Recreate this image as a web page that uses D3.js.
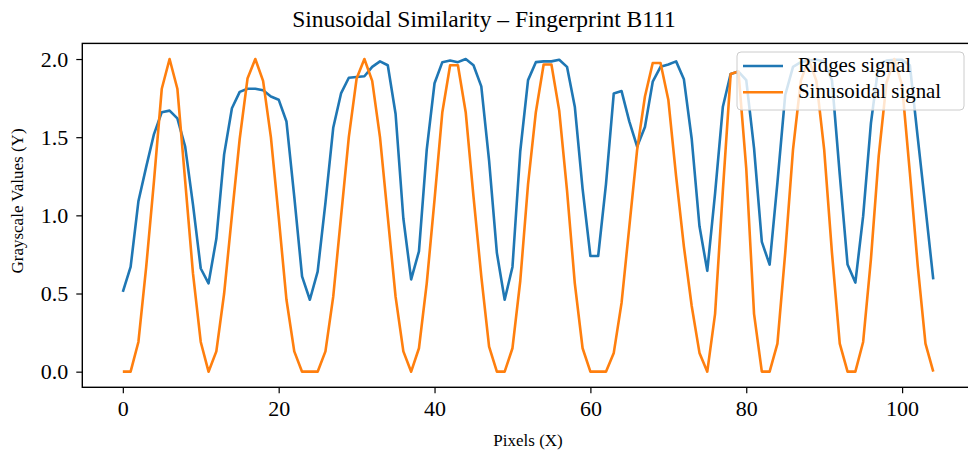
<!DOCTYPE html>
<html><head><meta charset="utf-8">
<script src="https://cdn.jsdelivr.net/npm/d3@7"></script>
<style>html,body{margin:0;padding:0;background:#fff;} svg{display:block;}</style>
</head><body>
<svg id="chart" width="968" height="457"></svg>
<script>
const titleText = "Sinusoidal Similarity \u2013 Fingerprint B111";
const xLabel = "Pixels (X)";
const yLabel = "Grayscale Values (Y)";
const seriesNames = ["Ridges signal", "Sinusoidal signal"];
const xTicks = [0, 20, 40, 60, 80, 100];
const yTicks = [0.0, 0.5, 1.0, 1.5, 2.0];
const ridges = [0.51,0.67,1.09,1.31,1.52,1.66,1.67,1.62,1.44,1.07,0.66,0.565,0.85,1.39,1.685,1.79,1.81,1.81,1.80,1.76,
1.74,1.60,1.12,0.61,0.46,0.64,1.08,1.56,1.78,1.88,1.885,1.89,1.95,1.985,1.96,1.65,0.98,0.59,0.77,1.42,
1.845,1.98,1.99,1.98,2.0,1.96,1.825,1.35,0.76,0.46,0.67,1.41,1.865,1.98,1.985,1.985,1.995,1.95,1.695,1.17,
0.74,0.74,1.2,1.78,1.795,1.60,1.44,1.565,1.855,1.95,1.965,1.985,1.87,1.49,0.93,0.645,1.14,1.695,1.905,1.92,
1.865,1.43,0.83,0.685,1.21,1.77,1.95,1.98,1.99,1.995,1.985,1.865,1.26,0.685,0.57,0.995,1.59,1.97,1.99,1.995,
1.995,1.96,1.5,1.05,0.59];
const sinusoid = [0,0,0.19,0.67,1.22,1.81,2.0,1.81,1.22,0.63,0.19,0,0.13,0.5,1.0,1.49,1.875,2.0,1.86,1.5,
0.99,0.46,0.13,0,0,0,0.13,0.48,0.99,1.5,1.875,2.0,1.86,1.5,0.99,0.48,0.13,0,0.15,0.565,
1.1,1.66,1.96,1.96,1.66,1.12,0.61,0.16,0,0,0.15,0.58,1.2,1.66,1.965,1.965,1.67,1.16,0.565,0.15,
0,0,0,0.12,0.44,0.93,1.42,1.76,1.975,1.975,1.74,1.25,0.8,0.42,0.12,0,0.37,1.16,1.905,1.92,
1.3,0.37,0,0,0.18,0.76,1.42,1.86,2.0,1.86,1.42,0.76,0.18,0,0,0.19,0.72,1.38,1.85,2.0,
1.83,1.27,0.68,0.18,0];
const colors = ["#1f77b4", "#ff7f0e"];

const FONT = "'Liberation Serif','DejaVu Serif',serif";
const svg = d3.select("#chart");
const L = 82.3, R = 973.8, T = 43.4, B = 387.3;
const n = ridges.length;
const x = d3.scaleLinear().domain([-0.05*(n-1), (n-1)*1.05]).range([L, R]);
const y = d3.scaleLinear().domain([-0.1, 2.1]).range([B, T]);

function fit(sel, target) {
  const w = sel.node().getComputedTextLength();
  const fs = parseFloat(sel.attr("font-size"));
  sel.attr("font-size", fs * target / w);
}

// lines
const line = d3.line().x((d,i)=>x(i)).y(d=>y(d));
[ridges, sinusoid].forEach((s, k) => {
  svg.append("path").datum(s).attr("d", line)
    .attr("fill","none").attr("stroke", colors[k]).attr("stroke-width", 2.6)
    .attr("stroke-linejoin","round").attr("stroke-linecap","butt");
});

// axes
const xAxis = svg.append("g").attr("transform", `translate(0,${B})`)
  .call(d3.axisBottom(x).tickValues(xTicks).tickFormat(d3.format("d")).tickSize(6).tickPadding(7).tickSizeOuter(0));
const yAxis = svg.append("g").attr("transform", `translate(${L},0)`)
  .call(d3.axisLeft(y).tickValues(yTicks).tickFormat(d3.format(".1f")).tickSize(6).tickPadding(8).tickSizeOuter(0));
[xAxis, yAxis].forEach(g => {
  g.select(".domain").remove();
  g.selectAll(".tick line").attr("stroke","#000").attr("stroke-width",1.2);
  g.selectAll(".tick text").attr("font-family", FONT).attr("font-size", 22).attr("fill","#000");
});

// frame
svg.append("rect").attr("x", L).attr("y", T).attr("width", R-L).attr("height", B-T)
  .attr("fill","none").attr("stroke","#000").attr("stroke-width",1.4);

// title & labels
const tt = svg.append("text").attr("x", 484).attr("y", 27).attr("text-anchor","middle")
  .attr("font-family", FONT).attr("font-size", 22).text(titleText);
fit(tt, 384);
svg.append("text").attr("x", (L+R)/2).attr("y", 446).attr("text-anchor","middle")
  .attr("font-family", FONT).attr("font-size", 17).text(xLabel);
svg.append("text").attr("transform", "translate(23,201) rotate(-90)").attr("text-anchor","middle")
  .attr("font-family", FONT).attr("font-size", 17).text(yLabel);

// legend
const lg = svg.append("g");
lg.append("rect").attr("x", 737).attr("y", 52).attr("width", 227).attr("height", 58).attr("rx", 4)
  .attr("fill","#fff").attr("fill-opacity",0.8).attr("stroke","#cccccc").attr("stroke-width",1);
seriesNames.forEach((name, k) => {
  const yy = 66 + k*26.3;
  lg.append("line").attr("x1", 743).attr("x2", 783).attr("y1", yy).attr("y2", yy)
    .attr("stroke", colors[k]).attr("stroke-width", 2.6);
  const t = lg.append("text").attr("x", 798).attr("y", yy+6).attr("font-family", FONT)
    .attr("font-size", 18).text(name);
  if (k === 0) fit(t, 113);
  else t.attr("font-size", lg.select("text").attr("font-size"));
});
</script>
</body></html>
